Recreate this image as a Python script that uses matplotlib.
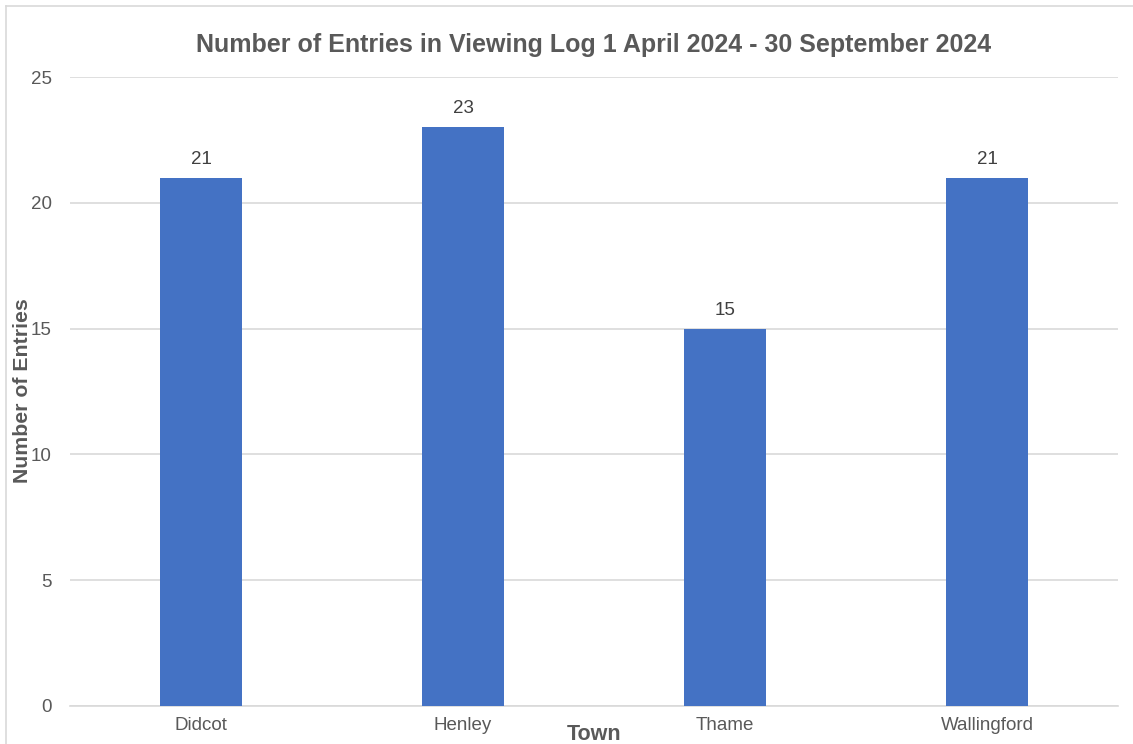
import matplotlib.pyplot as plt
from matplotlib.lines import Line2D

towns = ["Didcot", "Henley", "Thame", "Wallingford"]
entries = [21, 23, 15, 21]
yticks = [0, 5, 10, 15, 20, 25]

plt.rcParams['font.family'] = ['Liberation Sans', 'DejaVu Sans']

fig = plt.figure(figsize=(11.33, 7.44), dpi=100)
ax = fig.add_axes([70/1133, 1 - 706/744, 1048/1133, 629/744])

x = range(len(towns))
bars = ax.bar(x, entries, width=0.31, color="#4472C4", zorder=3)
for b, v in zip(bars, entries):
    ax.text(b.get_x() + b.get_width()/2, v + 0.4, str(v), ha="center", va="bottom",
            fontsize=13.5, color="#404040")

ax.set_xlim(-0.5, 3.5)
ax.set_ylim(0, 25)
ax.set_yticks(yticks)
ax.set_xticks(list(x))
ax.set_xticklabels(towns)
ax.tick_params(axis="both", length=0, labelsize=13.5, labelcolor="#595959")
ax.tick_params(axis="y", pad=13)
ax.tick_params(axis="x", pad=8)
ax.grid(axis="y", color="#D9D9D9", linewidth=1.2, zorder=0)
for s in ["top", "right", "left"]:
    ax.spines[s].set_visible(False)
ax.spines["bottom"].set_color("#D9D9D9")
ax.spines["bottom"].set_linewidth(1.2)

fig.text(594/1133, 1 - 45/744, "Number of Entries in Viewing Log 1 April 2024 - 30 September 2024",
         ha="center", va="center", fontsize=18, fontweight="bold", color="#595959")
fig.text(594/1133, 1 - 734/744, "Town", ha="center", va="center",
         fontsize=15.5, fontweight="bold", color="#595959")
fig.text(23/1133, 1 - 391/744, "Number of Entries", ha="center", va="center", rotation=90,
         fontsize=15.3, fontweight="bold", color="#595959")

# light border on the left and top edges
fig.add_artist(Line2D([6/1133, 6/1133], [0, 1 - 6/744], transform=fig.transFigure,
                      color="#D9D9D9", linewidth=1.2))
fig.add_artist(Line2D([6/1133, 1], [1 - 6/744, 1 - 6/744], transform=fig.transFigure,
                      color="#D9D9D9", linewidth=1.2))

fig.savefig("out.png", dpi=100)
